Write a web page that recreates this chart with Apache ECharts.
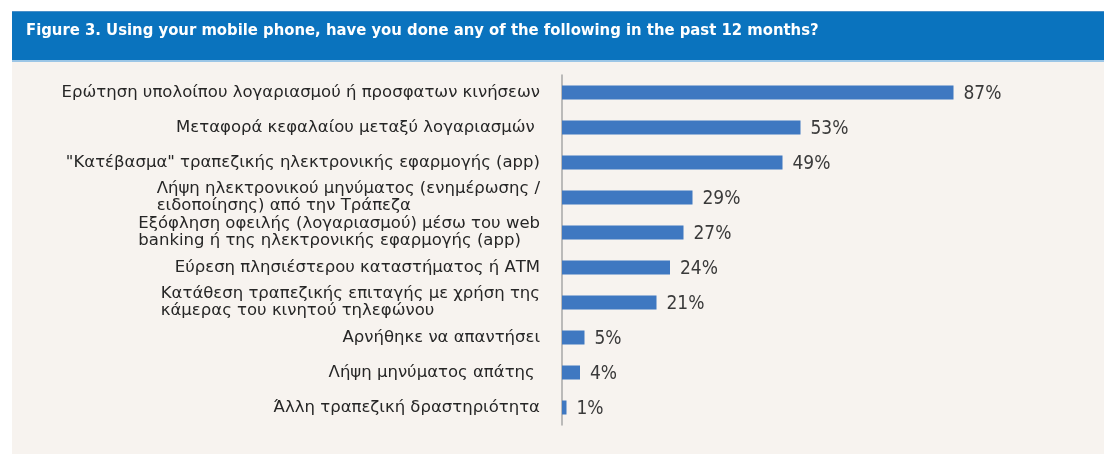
<!DOCTYPE html>
<html>
<head>
<meta charset="utf-8">
<script src="https://cdn.jsdelivr.net/npm/echarts@6/dist/echarts.min.js"></script>
<style>
  html, body { margin: 0; padding: 0; background: #ffffff; }
  #chart { width: 1104px; height: 454px; }
</style>
</head>
<body>
<div id="chart"></div>
<script>
// Survey answers, top to bottom
const categories = [
  'Ερώτηση υπολοίπου λογαριασμού ή προσφατων κινήσεων',
  'Μεταφορά κεφαλαίου μεταξύ λογαριασμών ',
  '"Κατέβασμα" τραπεζικής ηλεκτρονικής εφαρμογής (app)',
  'Λήψη ηλεκτρονικού μηνύματος (ενημέρωσης /\nειδοποίησης) από την Τράπεζα',
  'Εξόφληση οφειλής (λογαριασμού) μέσω του web\nbanking ή της ηλεκτρονικής εφαρμογής (app)',
  'Εύρεση πλησιέστερου καταστήματος ή ΑΤΜ',
  'Κατάθεση τραπεζικής επιταγής με χρήση της\nκάμερας του κινητού τηλεφώνου',
  'Αρνήθηκε να απαντήσει',
  'Λήψη μηνύματος απάτης ',
  'Άλλη τραπεζική δραστηριότητα'
];
// Share of respondents, in percent
const shares = [87, 53, 49, 29, 27, 24, 21, 5, 4, 1];

const titleText = 'Figure 3. Using your mobile phone, have you done any of the following in the past 12 months?';

const labelFont = '"DejaVu Sans", Verdana, sans-serif';

const chart = echarts.init(document.getElementById('chart'), null, { renderer: 'canvas' });

chart.setOption({
  backgroundColor: '#ffffff',
  animation: false,
  graphic: [
    // header band
    { type: 'rect', z: -10, shape: { x: 12, y: 11, width: 1092, height: 50 },
      style: { fill: '#0a73be' } },
    { type: 'rect', z: -9, shape: { x: 12, y: 11, width: 1092, height: 1 },
      style: { fill: '#4a8fc8' } },
    { type: 'rect', z: -9, shape: { x: 12, y: 60, width: 1092, height: 2 },
      style: { fill: '#9cc6e6' } },
    // panel background
    { type: 'rect', z: -10, shape: { x: 12, y: 62, width: 1092, height: 392 },
      style: { fill: '#f7f3ef' } },
    { type: 'text', z: 10, left: 26, top: 22,
      style: { text: titleText, fill: '#ffffff',
        font: 'bold 16.5px "Liberation Sans Narrow", "DejaVu Sans Condensed", sans-serif' } }
  ],
  grid: { left: 562, top: 75, width: 450, height: 350, containLabel: false },
  xAxis: {
    type: 'value', min: 0, max: 100,
    show: false
  },
  yAxis: {
    type: 'category',
    data: categories,
    inverse: true,
    axisLine: { show: true, lineStyle: { color: '#a7a7a7', width: 1.5 } },
    axisTick: { show: false },
    splitLine: { show: false },
    axisLabel: {
      margin: 22,
      color: '#262626',
      fontFamily: labelFont,
      fontSize: 16.5,
      lineHeight: 17,
      formatter: (v) => v.split('\n').map(l => '{a|' + l + '}').join('\n'),
      rich: {
        a: { align: 'left', color: '#262626', fontFamily: labelFont,
             fontSize: 16.5, lineHeight: 17 }
      }
    }
  },
  series: [{
    type: 'bar',
    data: shares,
    barWidth: 14,
    itemStyle: { color: '#3f78c1' },
    label: {
      show: true,
      position: 'right',
      distance: 10,
      offset: [0, 2],
      formatter: '{c}%',
      color: '#3a3a3a',
      fontFamily: '"Liberation Sans Narrow", "DejaVu Sans Condensed", sans-serif',
      fontSize: 19
    }
  }]
});
</script>
</body>
</html>
